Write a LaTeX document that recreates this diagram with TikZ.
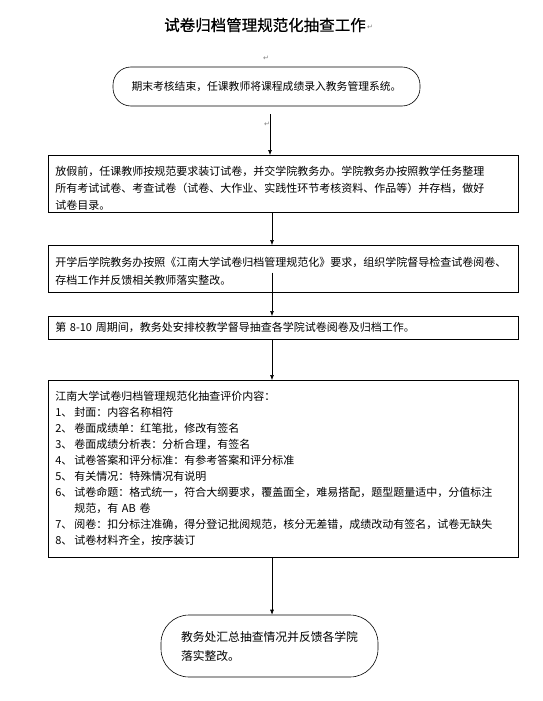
\documentclass[tikz,border=0pt]{standalone}
\usepackage{fontspec}
\setmainfont{Noto Sans CJK SC}
\newfontfamily\symfont{DejaVu Sans}
\newfontfamily\titlefont[FakeBold=0.6]{Noto Sans CJK SC}
\usetikzlibrary{arrows.meta}
\newcommand{\itm}[1]{\makebox[19pt][l]{#1}}
\newcommand{\padt}[1]{\rule{0pt}{#1}}
\begin{document}
\begin{tikzpicture}[x=1pt,y=-1pt,
  box/.style={draw, line width=0.6pt, anchor=north west, minimum width=470pt,
    text width=456pt, inner xsep=7pt, inner ysep=0pt, align=left,
    font=\fontsize{11}{16.5}\selectfont},
  term/.style={draw, line width=0.6pt, inner sep=0pt},
  arr/.style={-{Latex[length=5pt,width=4pt]}, line width=0.6pt},
  pmark/.style={text=gray, font=\symfont\fontsize{7}{7}\selectfont, inner sep=0pt}
]
\useasboundingbox[fill=white] (0,0) rectangle (543,701);

\node[font=\titlefont\fontsize{15.5}{18}\selectfont, inner sep=0pt] (t) at (265,25) {试卷归档管理规范化抽查工作};
\node[pmark, anchor=west] (m0) at ([xshift=1pt,yshift=-2pt]t.east) {↵};
\node[pmark] (m1) at (266,58) {↵};
\node[pmark] (m2) at (267,124) {↵};

\node[term, rounded corners=18pt, minimum width=307pt, minimum height=39pt,
  font=\fontsize{10.8}{13}\selectfont] (e1) at (266.5,86.5)
  {期末考核结束，任课教师将课程成绩录入教务管理系统。};

\node[box, minimum height=57pt, font=\fontsize{11}{17}\selectfont] (b1) at (48,155)
  {\padt{18pt}放假前，任课教师按规范要求装订试卷，并交学院教务办。学院教务办按照教学任务整理\\
   所有考试试卷、考查试卷（试卷、大作业、实践性环节考核资料、作品等）并存档，做好\\
   试卷目录。};

\node[box, minimum height=47pt, font=\fontsize{11}{18}\selectfont] (b2) at (48,245)
  {\padt{15pt}开学后学院教务办按照《江南大学试卷归档管理规范化》要求，组织学院督导检查试卷阅卷、\\
   存档工作并反馈相关教师落实整改。};

\node[box, minimum height=23pt] (b3) at (48,316)
  {第 8-10 周期间，教务处安排校教学督导抽查各学院试卷阅卷及归档工作。};

\node[box, minimum height=177pt, font=\fontsize{11}{16}\selectfont] (b4) at (48,380)
  {江南大学试卷归档管理规范化抽查评价内容：\\
   \itm{1、}封面：内容名称相符\\
   \itm{2、}卷面成绩单：红笔批，修改有签名\\
   \itm{3、}卷面成绩分析表：分析合理，有签名\\
   \itm{4、}试卷答案和评分标准：有参考答案和评分标准\\
   \itm{5、}有关情况：特殊情况有说明\\
   \itm{6、}试卷命题：格式统一，符合大纲要求，覆盖面全，难易搭配，题型题量适中，分值标注\\
   \itm{}规范，有 AB 卷\\
   \itm{7、}阅卷：扣分标注准确，得分登记批阅规范，核分无差错，成绩改动有签名，试卷无缺失\\
   \itm{8、}试卷材料齐全，按序装订};

\node[term, rounded corners=28pt, minimum width=217pt, minimum height=62pt,
  align=left, font=\fontsize{11.8}{19}\selectfont] (e2) at (269.5,646)
  {教务处汇总抽查情况并反馈各学院\\落实整改。};

\coordinate (ax0) at (270,0);
\coordinate (ax) at (272,0);
\draw[arr] ([yshift=-8pt]e1.south -| ax0) -- (b1.north -| ax0);
\draw[arr] (b1.south -| ax) -- (b2.north -| ax);
\draw[arr] ([yshift=20pt]b2.south -| ax) -- (b3.north -| ax);
\draw[arr] (b3.south -| ax) -- (b4.north -| ax);
\draw[arr] (b4.south -| ax) -- (e2.north -| ax);
\end{tikzpicture}
\end{document}
